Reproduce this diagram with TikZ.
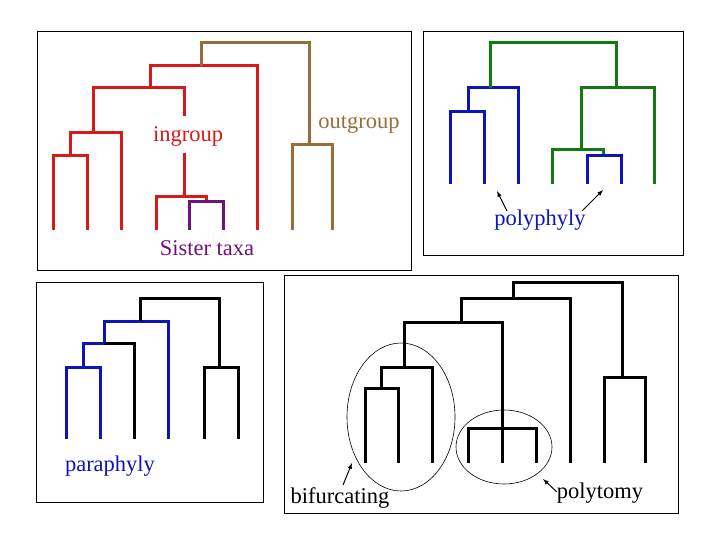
\documentclass[tikz,border=0pt]{standalone}
\usepackage{fontspec}
\setmainfont{Liberation Serif}
\begin{document}
\begin{tikzpicture}[x=1pt,y=-1pt,
  br/.style={line width=3pt},
  box/.style={draw=black,line width=0.8pt},
  lbl/.style={font=\fontsize{22.5}{26}\selectfont,inner sep=0pt},
  arr/.style={-latex,line width=1pt}]
\definecolor{cred}{RGB}{215,25,25}
\definecolor{cbrown}{RGB}{150,110,60}
\definecolor{cpurple}{RGB}{110,20,120}
\definecolor{cgreen}{RGB}{20,120,20}
\definecolor{cblue}{RGB}{15,20,185}
\fill[white] (0,0) rectangle (720,540);
\useasboundingbox (0,0) rectangle (720,540);
% panel 1
\draw[box] (37,31) rectangle (411,270);
\begin{scope}[br,draw=cred]
\draw (53,230) |- (87,156) -- (87,230);
\draw (70,156) |- (121,133) -- (121,230);
\draw (93,133) |- (184,88) -- (184,116);
\draw (184,153) -- (184,197);
\draw (156,230) |- (206,197) -- (206,202);
\draw (150,88) |- (257,66) -- (257,230);
\end{scope}
\draw[br,cpurple] (189,230) |- (223,202) -- (223,230);
\draw[br,cbrown] (201,66) |- (309,43) -- (309,145);
\draw[br,cbrown] (292,230) |- (332,145) -- (332,230);
\node[lbl,text=cred] (ing) at (188,136) {ingroup};
\node[lbl,text=cbrown] (outg) at (359,125) {outgroup};
\node[lbl,text=cpurple] (sis) at (207,248) {Sister taxa};
% panel 2
\draw[box] (423,31) rectangle (683,255);
\draw[br,cblue] (450,184) |- (484,112) -- (484,184);
\draw[br,cblue] (468,112) |- (518,88) -- (518,184);
\draw[br,cgreen] (490,88) |- (616,43) -- (616,88);
\draw[br,cgreen] (581,150) |- (654,88) -- (654,184);
\draw[br,cgreen] (552,184) |- (603,150) -- (603,156);
\draw[br,cblue] (587,184) |- (621,156) -- (621,184);
\node[lbl,text=cblue] (poly) at (540,220) {polyphyly};
\coordinate (p1) at (497,191);
\coordinate (p2) at (603,190);
\draw[arr] (507,211) -- (p1);
\draw[arr] (582,211) -- (p2);
% panel 3
\draw[box] (36,282) rectangle (263,502);
\draw[br,cblue] (66,439) |- (100,367) -- (100,439);
\draw[br,cblue] (83,367) -- (83,343) -- (104,343);
\draw[br] (104,343) -- (134,343) -- (134,439);
\draw[br,cblue] (104,343) |- (168,321) -- (168,439);
\draw[br] (140,321) |- (219,298) -- (219,367);
\draw[br] (204,439) |- (238,367) -- (238,439);
\node[lbl,text=cblue] (para) at (110,466) {paraphyly};
% panel 4
\draw[box] (284,275) rectangle (678,513);
\draw[br] (365,463) |- (398,388) -- (398,463);
\draw[br] (381,388) |- (432,367) -- (432,463);
\draw[br] (468,463) |- (536,428) -- (536,463);
\draw[br] (502,463) -- (502,428);
\draw[br] (404,367) |- (502,322) -- (502,428);
\draw[br] (461,322) |- (570,298) -- (570,463);
\draw[br] (604,463) |- (645,377) -- (645,463);
\draw[br] (513,298) |- (622,282) -- (622,377);
\draw[line width=0.6pt] (401,417) ellipse [x radius=54,y radius=74];
\draw[line width=0.6pt] (504,447) ellipse [x radius=48,y radius=37];
\node[lbl] (bif) at (340,498) {bifurcating};
\node[lbl] (pt) at (600,493) {polytomy};
\coordinate (b1) at (352,463);
\coordinate (t1) at (543,479);
\draw[arr] (343,485) -- (b1);
\draw[arr] (557,492) -- (t1);
\end{tikzpicture}
\end{document}
